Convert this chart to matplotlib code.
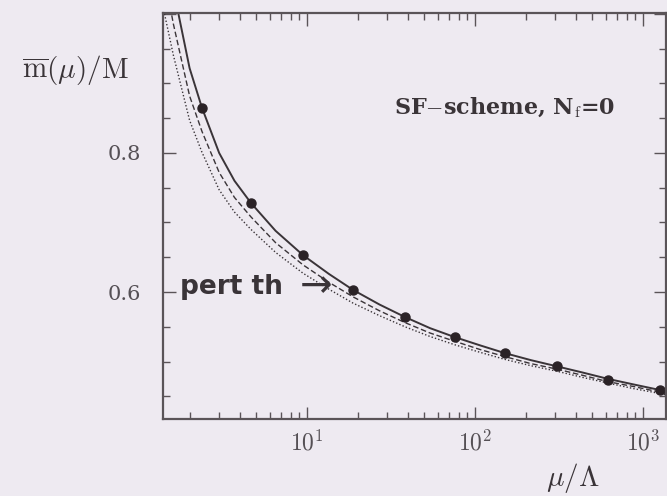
import numpy as np
import matplotlib
matplotlib.use("Agg")
import matplotlib.pyplot as plt
import matplotlib as mpl
from matplotlib.ticker import FixedLocator, MultipleLocator, LogLocator, NullFormatter

mpl.rcParams['mathtext.fontset'] = "cm"
mpl.rcParams['font.family'] = "DejaVu Serif"

# data points (mu/Lambda, mbar/M)
mu_pts = [2.37, 4.64, 9.47, 18.8, 38.3, 76, 151, 308, 619, 1262]
m_pts = [0.865, 0.728, 0.653, 0.603, 0.564, 0.535, 0.512, 0.494, 0.473, 0.459]

# curves
mu_line = [1.39, 1.6, 2.0, 2.37, 3.0, 3.7, 4.64, 6.5, 9.47, 13.5, 18.8, 27,
           38.3, 54, 76, 108, 151, 215, 308, 440, 619, 880, 1262, 1370]
m_solid = [1.13, 1.036, 0.922, 0.865, 0.800, 0.760, 0.728, 0.688, 0.653, 0.626,
           0.603, 0.582, 0.564, 0.548, 0.535, 0.523, 0.512, 0.502, 0.493, 0.484,
           0.475, 0.467, 0.459, 0.457]
m_dashed = [1.065, 0.986, 0.882, 0.831, 0.772, 0.736, 0.708, 0.671, 0.639, 0.614,
            0.593, 0.573, 0.556, 0.541, 0.529, 0.517, 0.507, 0.497, 0.489, 0.480,
            0.471, 0.464, 0.456, 0.454]
m_dotted = [1.01, 0.941, 0.847, 0.801, 0.747, 0.715, 0.690, 0.657, 0.627, 0.604,
            0.584, 0.566, 0.550, 0.536, 0.524, 0.513, 0.503, 0.494, 0.486, 0.477,
            0.469, 0.461, 0.454, 0.452]

x_ticks = [10, 100, 1000]
x_ticklabels = [r"$10^{1}$", r"$10^{2}$", r"$10^{3}$"]
y_ticks = [0.6, 0.8]
y_ticklabels = ["0.6", "0.8"]

bg = "#eeeaf1"
ink = "#3a3438"

W, H = 667, 496
fig = plt.figure(figsize=(W / 100, H / 100), dpi=100, facecolor=bg)
ax = fig.add_axes([163 / W, (H - 419) / H, (666 - 163) / W, (419 - 13) / H])
ax.set_facecolor(bg)

ax.plot(mu_line, m_dotted, ls=(0, (1, 1.5)), color=ink, lw=1.0)
ax.plot(mu_line, m_dashed, ls=(0, (4, 2)), color=ink, lw=1.0)
ax.plot(mu_line, m_solid, ls="-", color=ink, lw=1.4)
ax.plot(mu_pts, m_pts, "o", color="#2a2226", ms=6.5)

ax.set_xscale("log")
ax.set_xlim(1.389, 1371)
ax.set_ylim(0.4173, 1.0014)

ax.xaxis.set_major_locator(FixedLocator(x_ticks))
ax.set_xticklabels(x_ticklabels)
ax.xaxis.set_minor_locator(LogLocator(base=10, subs=np.arange(2, 10)))
ax.xaxis.set_minor_formatter(NullFormatter())
ax.yaxis.set_major_locator(FixedLocator(y_ticks + [1.0]))
ax.set_yticklabels(y_ticklabels + [""])
ax.yaxis.set_minor_locator(MultipleLocator(0.05))

for sp in ax.spines.values():
    sp.set_color("#5a5458")
    sp.set_linewidth(1.6)

ax.tick_params(which="both", direction="in", top=True, right=True, color="#5a5458")
ax.tick_params(which="major", length=9, width=1.0)
ax.tick_params(which="minor", length=5, width=1.0)
ax.tick_params(axis="x", which="major", pad=8, labelsize=17, labelcolor="#555055")
ax.tick_params(axis="y", which="major", pad=16, labelsize=15, labelcolor="#555055")

fig.text(75 / W, 1 - 70 / H, r"$\overline{\rm m}(\mu)/{\rm M}$", ha="center",
         va="center", fontsize=21, color="#3a3438")
fig.text(573 / W, 1 - 478 / H, r"$\mu/\Lambda$", ha="center", va="center",
         fontsize=21, color="#3a3438")
fig.text(505 / W, 1 - 108 / H, r"SF$-$scheme, N$_{\rm f}$=0", ha="center",
         va="center", fontsize=16, fontweight="bold", color="#3a3438",
         fontfamily="DejaVu Serif")
fig.text(180 / W, 1 - 287 / H, "pert th", ha="left", va="center",
         fontsize=19, fontweight="bold", color="#3a3438", fontfamily="DejaVu Sans")
fig.text(316 / W, 1 - 286 / H, "\u2192", ha="center", va="center",
         fontsize=28, color="#3a3438", fontfamily="DejaVu Sans")

fig.savefig("out.png", dpi=100, facecolor=bg)
